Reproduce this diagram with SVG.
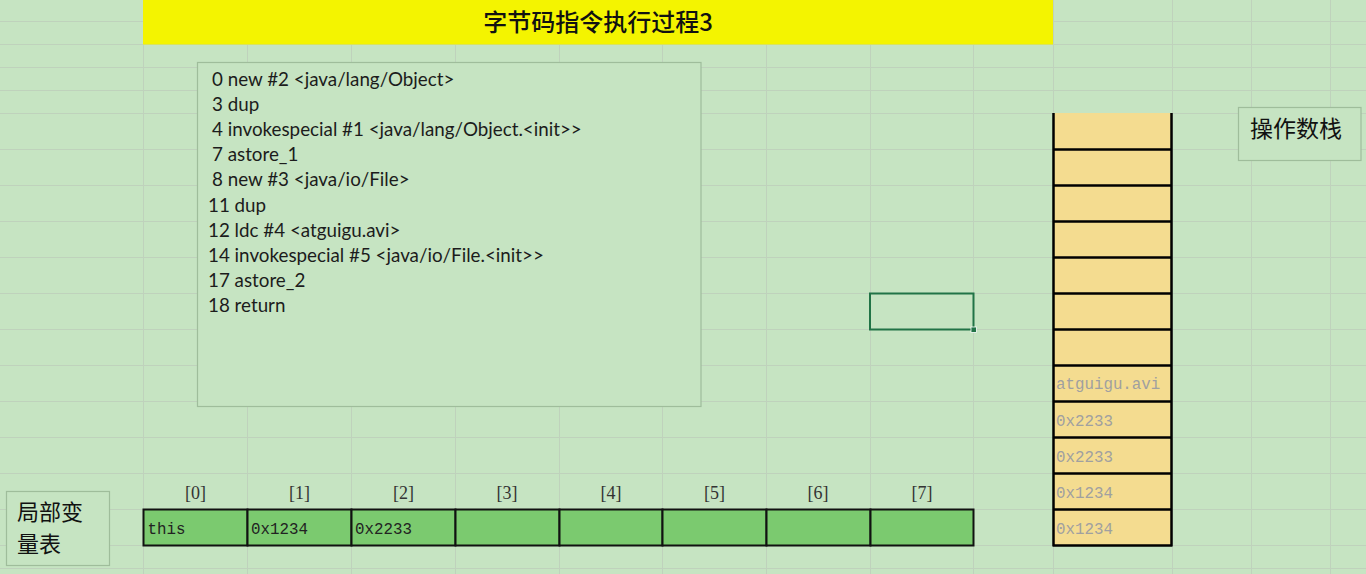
<svg xmlns="http://www.w3.org/2000/svg" width="1366" height="574" viewBox="0 0 1366 574">
<style>
.grid{stroke:#bfd2bc;stroke-width:1;fill:none}
.code{font-family:Lato,"Open Sans","Liberation Sans",sans-serif;font-size:18.8px;fill:#1c1c1c}
.cjk{font-family:"Noto Sans CJK SC","Liberation Sans",sans-serif;fill:#111}
.mono{font-family:"Liberation Mono","DejaVu Sans Mono",monospace;font-size:15.8px}
.idx{font-family:"Liberation Serif",serif;font-size:18px;fill:#333;text-anchor:middle}
.stk{fill:#f4dc90}
.stkline{stroke:#000;stroke-width:2.5}
.cell{fill:#7bca6f;stroke:#111;stroke-width:2}
.panel{fill:#c6e4c2;stroke:#9fbd9b;stroke-width:1.2}
</style>
<rect x="0" y="0" width="1366" height="574" fill="#c6e4c2"/>
<g id="grid">
<path class="grid" d="M0 21.5H1366M0 44.5H1366M0 67.5H1366M0 90.5H1366M0 113.5H1366M0 149.5H1366M0 185.5H1366M0 221.5H1366M0 257.5H1366M0 293.5H1366M0 329.5H1366M0 365.5H1366M0 401.5H1366M0 437.5H1366M0 473.5H1366M0 509.5H1366M0 545.5H1366M0 568.5H1366M143.5 0V574M247.5 0V574M351.5 0V574M455.5 0V574M559.5 0V574M662.5 0V574M766.5 0V574M870.5 0V574M973.5 0V574M1053.5 0V574M1172.5 0V574M1251.5 0V574M1330.5 0V574"/>
</g>
<g id="title">
<rect x="143" y="0" width="910" height="44.5" fill="#f4f400"/>
<text class="cjk" x="598" y="31" font-size="24" font-weight="500" text-anchor="middle">字节码指令执行过程3</text>
</g>
<g id="code">
<rect class="panel" x="197.5" y="62.5" width="503.5" height="344"/>
<text class="code" x="212" y="86">0 new #2 &lt;java/lang/Object&gt;</text>
<text class="code" x="212" y="111">3 dup</text>
<text class="code" x="212" y="136">4 invokespecial #1 &lt;java/lang/Object.&lt;init&gt;&gt;</text>
<text class="code" x="212" y="161">7 astore_1</text>
<text class="code" x="212" y="186">8 new #3 &lt;java/io/File&gt;</text>
<text class="code" x="208" y="211.5">11 dup</text>
<text class="code" x="208" y="236.5">12 ldc #4 &lt;atguigu.avi&gt;</text>
<text class="code" x="208" y="261.5">14 invokespecial #5 &lt;java/io/File.&lt;init&gt;&gt;</text>
<text class="code" x="208" y="286.5">17 astore_2</text>
<text class="code" x="208" y="311.5">18 return</text>
</g>
<g id="selection">
<rect x="870" y="293.5" width="103.5" height="36" fill="none" stroke="#217346" stroke-width="2"/>
<rect x="971" y="327" width="5.5" height="5.5" fill="#217346" stroke="#ffffff" stroke-width="0.8"/>
</g>
<g id="operand-stack-label">
<rect class="panel" x="1238.5" y="107.5" width="122.5" height="53"/>
<text class="cjk" x="1250" y="137" font-size="23">操作数栈</text>
</g>
<g id="operand-stack">
<rect class="stk" x="1053" y="113" width="119" height="433"/>
<path class="stkline" d="M1053.5 113V546.5M1171.5 113V546.5M1053 149.5H1172M1053 185.5H1172M1053 221.5H1172M1053 257.5H1172M1053 293.5H1172M1053 329.5H1172M1053 365.5H1172M1053 401.5H1172M1053 437.5H1172M1053 473.5H1172M1053 509.5H1172M1053 545.5H1172"/>
<g class="mono" fill="#a0a0a0">
<text x="1056" y="389">atguigu.avi</text>
<text x="1056" y="425.5">0x2233</text>
<text x="1056" y="461.5">0x2233</text>
<text x="1056" y="497.5">0x1234</text>
<text x="1056" y="533.5">0x1234</text>
</g>
</g>
<g id="local-var-label">
<rect class="panel" x="6.5" y="491.5" width="103" height="74"/>
<text class="cjk" x="17" y="520" font-size="22">局部变</text>
<text class="cjk" x="17" y="551.5" font-size="22">量表</text>
</g>
<g id="local-var-table">
<text class="idx" x="195.5" y="499">[0]</text>
<text class="idx" x="299.5" y="499">[1]</text>
<text class="idx" x="403.5" y="499">[2]</text>
<text class="idx" x="507" y="499">[3]</text>
<text class="idx" x="611" y="499">[4]</text>
<text class="idx" x="714.5" y="499">[5]</text>
<text class="idx" x="818" y="499">[6]</text>
<text class="idx" x="922" y="499">[7]</text>
<rect class="cell" x="143.5" y="509.5" width="104" height="36"/>
<rect class="cell" x="247.5" y="509.5" width="104" height="36"/>
<rect class="cell" x="351.5" y="509.5" width="104" height="36"/>
<rect class="cell" x="455.5" y="509.5" width="104" height="36"/>
<rect class="cell" x="559.5" y="509.5" width="103" height="36"/>
<rect class="cell" x="662.5" y="509.5" width="104" height="36"/>
<rect class="cell" x="766.5" y="509.5" width="104" height="36"/>
<rect class="cell" x="870.5" y="509.5" width="103" height="36"/>
<g class="mono" fill="#222">
<text x="147.5" y="533.5">this</text>
<text x="251" y="533.5">0x1234</text>
<text x="355" y="533.5">0x2233</text>
</g>
</g>
<g id="connectors"/>
</svg>
